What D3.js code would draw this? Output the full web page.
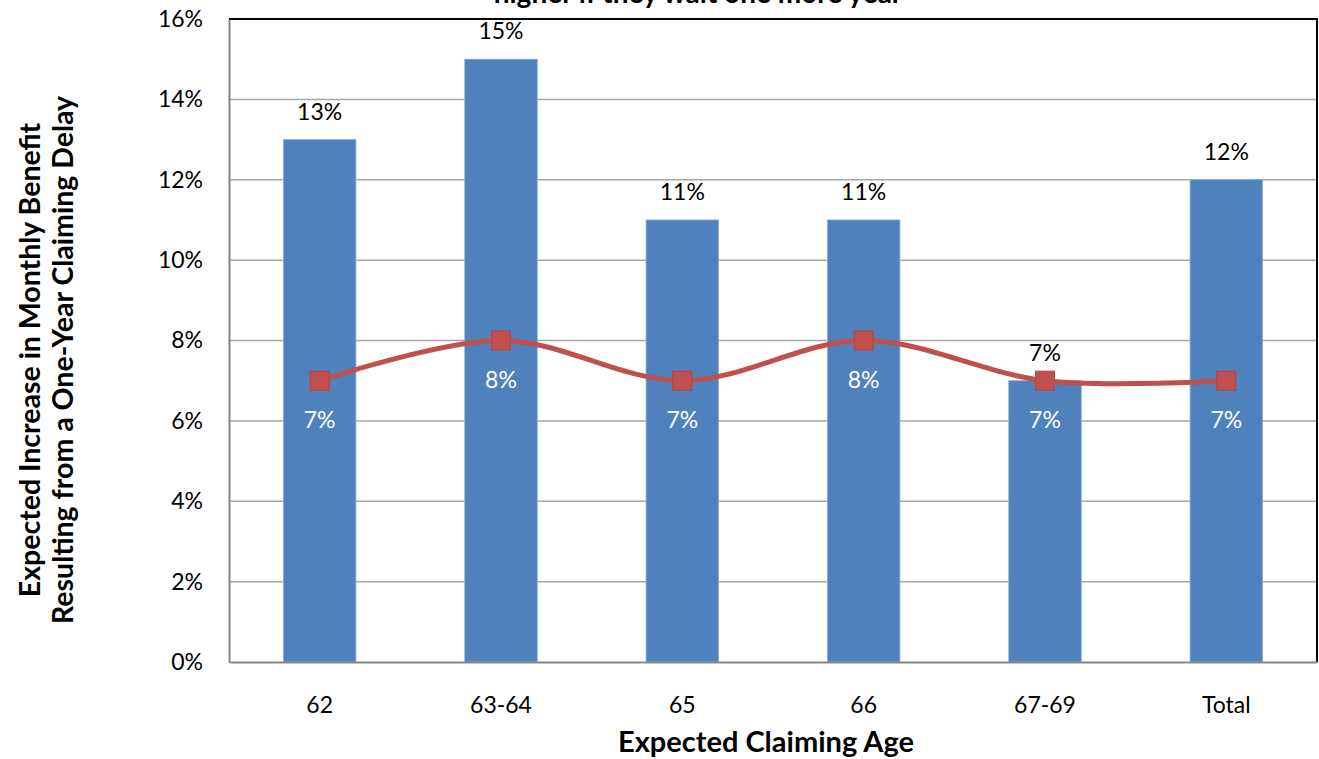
<!DOCTYPE html>
<html>
<head>
<meta charset="utf-8">
<script src="https://cdn.jsdelivr.net/npm/d3@7"></script>
<style>
  html, body { margin: 0; padding: 0; background: #fff; }
  svg { display: block; font-family: Lato, "Open Sans", sans-serif; }
</style>
</head>
<body>
<svg id="chart" width="1319" height="759"></svg>
<script>
// Expected claiming age groups
const categories = ["62", "63-64", "65", "66", "67-69", "Total"];
// Expected increase in monthly benefit from a one-year delay (bars)
const barValues = [0.13, 0.15, 0.11, 0.11, 0.07, 0.12];
// Comparison series drawn as a smoothed line with square markers
const lineValues = [0.07, 0.08, 0.07, 0.08, 0.07, 0.07];
const yTicks = [0, 0.02, 0.04, 0.06, 0.08, 0.10, 0.12, 0.14, 0.16];

const svg = d3.select("#chart");
const plotLeft = 229, plotRight = 1317, plotTop = 19, plotBottom = 662;
const labelSize = 23;

const x = d3.scaleBand().domain(categories).range([plotLeft, plotRight]).paddingInner(0.6).paddingOuter(0.3);
const xc = d3.scaleBand().domain(categories).range([plotLeft, plotRight]);
const y = d3.scaleLinear().domain([0, 0.16]).range([plotBottom, plotTop]);
const pct = d3.format(".0%");

// Horizontal gridlines
svg.append("g").selectAll("line").data(yTicks.slice(1, -1)).join("line")
  .attr("x1", plotLeft).attr("x2", plotRight)
  .attr("y1", d => y(d)).attr("y2", d => y(d))
  .attr("stroke", "#a6a6a6").attr("stroke-width", 1.5);

// Plot-area border on top and right
svg.append("path")
  .attr("d", `M${plotLeft},${y(0.16)}H${plotRight}V${plotBottom}`)
  .attr("fill", "none").attr("stroke", "#000").attr("stroke-width", 2);

// Bars
svg.append("g").selectAll("rect").data(categories).join("rect")
  .attr("x", d => x(d)).attr("width", x.bandwidth())
  .attr("y", (d, i) => y(barValues[i]))
  .attr("height", (d, i) => y(0) - y(barValues[i]))
  .attr("fill", "#4f81bd").attr("stroke", "#8fb0d8").attr("stroke-width", 0.8);

// Y axis
const yAxis = svg.append("g").attr("transform", `translate(${plotLeft},0)`)
  .call(d3.axisLeft(y).tickValues(yTicks).tickFormat(pct).tickSize(0).tickPadding(26));
yAxis.select(".domain").attr("stroke", "#868686").attr("stroke-width", 2);
yAxis.selectAll("text").attr("font-size", labelSize).attr("fill", "#000").attr("font-family", "Lato");

// X axis
const xAxis = svg.append("g").attr("transform", `translate(0,${plotBottom})`)
  .call(d3.axisBottom(xc).tickSize(0).tickPadding(35));
xAxis.select(".domain").attr("stroke", "#868686").attr("stroke-width", 2);
xAxis.selectAll("text").attr("font-size", labelSize).attr("fill", "#000").attr("font-family", "Lato");

// Bar value labels
svg.append("g").selectAll("text").data(categories).join("text")
  .attr("x", d => xc(d) + xc.bandwidth() / 2)
  .attr("y", (d, i) => y(barValues[i]) - 20)
  .attr("text-anchor", "middle").attr("font-size", labelSize).attr("fill", "#000")
  .text((d, i) => pct(barValues[i]));

// Smoothed line
const line = d3.line()
  .x((d, i) => xc(categories[i]) + xc.bandwidth() / 2)
  .y(d => y(d))
  .curve(d3.curveCatmullRom.alpha(0));
svg.append("path").datum(lineValues)
  .attr("d", line).attr("fill", "none")
  .attr("stroke", "#c0504d").attr("stroke-width", 5);

// Square markers
svg.append("g").selectAll("rect").data(lineValues).join("rect")
  .attr("x", (d, i) => xc(categories[i]) + xc.bandwidth() / 2 - 9.5)
  .attr("y", d => y(d) - 9.5)
  .attr("width", 19).attr("height", 19)
  .attr("fill", "#c0504d").attr("stroke", "#b9413e").attr("stroke-width", 1);

// Line value labels
svg.append("g").selectAll("text").data(lineValues).join("text")
  .attr("x", (d, i) => xc(categories[i]) + xc.bandwidth() / 2)
  .attr("y", d => y(d) + 47)
  .attr("text-anchor", "middle").attr("font-size", labelSize).attr("fill", "#fff")
  .text(d => pct(d));

// Titles
svg.append("text").attr("x", 698).attr("y", 3)
  .attr("text-anchor", "middle").attr("font-size", 28).attr("font-weight", "bold")
  .text("higher if they wait one more year");

svg.append("text").attr("x", 766).attr("y", 752)
  .attr("text-anchor", "middle").attr("font-size", 29).attr("font-weight", "bold")
  .text("Expected Claiming Age");

const yt = svg.append("text").attr("transform", "translate(0,360) rotate(-90)")
  .attr("text-anchor", "middle").attr("font-size", 28.5).attr("font-weight", "bold");
yt.append("tspan").attr("x", 0).attr("y", 40).text("Expected Increase in Monthly Benefit");
yt.append("tspan").attr("x", 0).attr("y", 73).text("Resulting from a One-Year Claiming Delay");
</script>
</body>
</html>
